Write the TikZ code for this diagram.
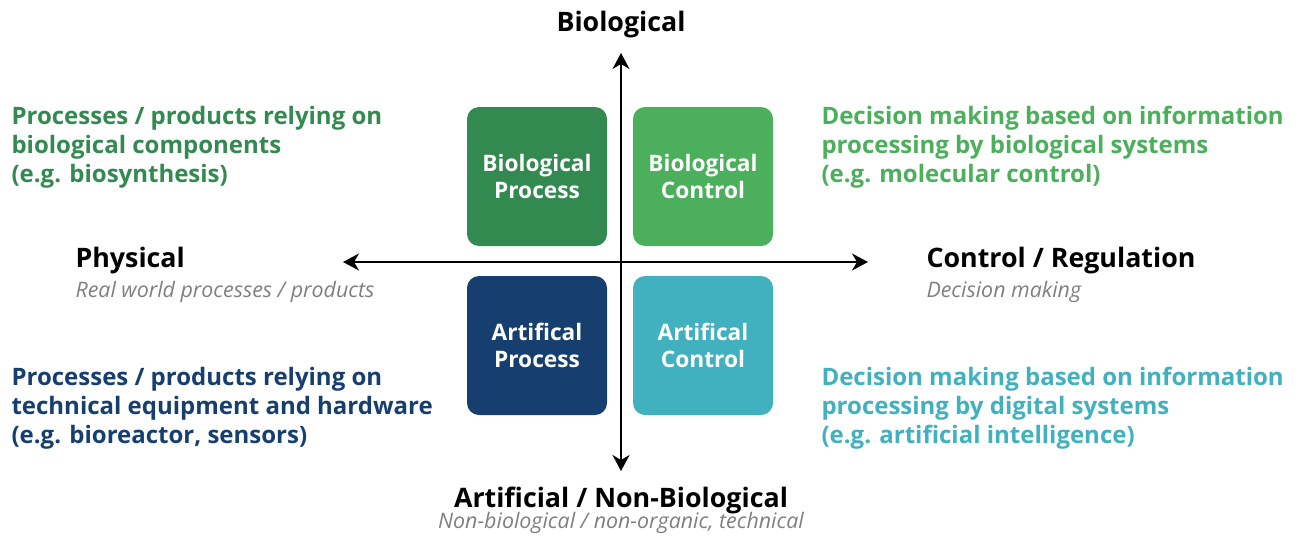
\documentclass[tikz,border=0pt]{standalone}
\usepackage{fontspec}
\setmainfont{Open Sans}
\usetikzlibrary{arrows.meta}

\definecolor{bioproc}{HTML}{338A50}
\definecolor{biocont}{HTML}{4BAF5C}
\definecolor{artproc}{HTML}{163F6F}
\definecolor{artcont}{HTML}{41B0BF}
\definecolor{subgray}{HTML}{7F7F7F}

\begin{document}
\begin{tikzpicture}[x=1pt,y=-1pt,
    quad/.style={shape=rectangle,rounded corners=12pt,minimum width=140pt,minimum height=139pt,
        text=white,align=center,font=\fontsize{22.7}{27}\selectfont\bfseries},
    axis/.style={draw=black,line width=1.8pt,{Stealth[length=16pt,width=17pt,inset=5pt]}-{Stealth[length=16pt,width=17pt,inset=5pt]}},
    title/.style={font=\fontsize{26.8}{30}\selectfont\bfseries},
    subtitle/.style={text=subgray,font=\fontsize{21.4}{24}\selectfont\itshape},
    blurb/.style={align=left,anchor=west,font=\fontsize{24}{29}\selectfont\bfseries}]
        \useasboundingbox (0,0) rectangle (1300,538);

        % quadrants
        \node[quad,fill=bioproc] (bp) at (537,176.5) {Biological\\Process};
        \node[quad,fill=biocont] (bc) at (703,176.5) {Biological\\Control};
        \node[quad,fill=artproc] (ap) at (537,345.5) {Artifical\\Process};
        \node[quad,fill=artcont] (ac) at (703,345.5) {Artifical\\Control};

        % axes
        \coordinate (top) at (621,53);
        \coordinate (bottom) at (621,471);
        \coordinate (left) at (343,262);
        \coordinate (right) at (868,262);
        \path[axis] (bottom) -- (top);
        \path[axis] (left) -- (right);

        % axis labels
        \node[title] (bio) at (621,25) {Biological};
        \node[title] (art) at (621,500) {Artificial / Non-Biological};
        \node[subtitle] (artsub) at (621,523) {Non-biological / non-organic, technical};
        \node[title,anchor=west] (phys) at (72,261) {Physical};
        \node[subtitle,anchor=west] (physsub) at (72,292) {Real world processes / products};
        \node[title,anchor=west] (ctrl) at (923,261) {Control / Regulation};
        \node[subtitle,anchor=west] (ctrlsub) at (923,292) {Decision making};

        % descriptions
        \node[blurb,text=bioproc] (bpt) at (8,147) {Processes / products relying on\\biological components\\(e.g. biosynthesis)};
        \node[blurb,text=biocont] (bct) at (818,147) {Decision making based on information\\processing by biological systems\\(e.g. molecular control)};
        \node[blurb,text=artproc] (apt) at (8,408) {Processes / products relying on\\technical equipment and hardware\\(e.g. bioreactor, sensors)};
        \node[blurb,text=artcont] (act) at (818,408) {Decision making based on information\\processing by digital systems\\(e.g. artificial intelligence)};
\end{tikzpicture}
\end{document}
